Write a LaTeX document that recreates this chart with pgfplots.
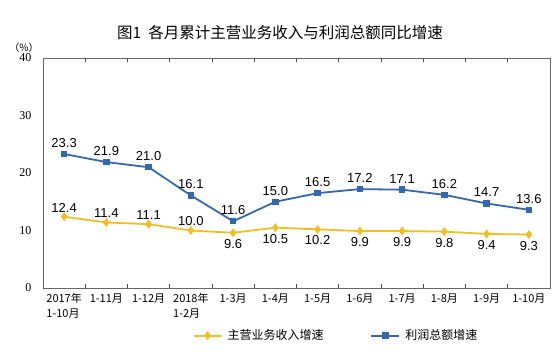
\documentclass[border=0pt]{standalone}
\usepackage{pgfplots}
\usepackage{pgfplotstable}
\pgfplotsset{compat=1.18}
\usepackage{fontspec}
\setmainfont{Liberation Sans}
\newfontfamily\cjk{Noto Sans CJK SC}
\newfontfamily\serifnum{Liberation Serif}
\definecolor{cy}{RGB}{242,190,32}
\definecolor{cb}{RGB}{52,104,172}
\pgfplotstableread{
x rev prof
0 12.4 23.3
1 11.4 21.9
2 11.1 21.0
3 10.0 16.1
4 9.6 11.6
5 10.5 15.0
6 10.2 16.5
7 9.9 17.2
8 9.9 17.1
9 9.8 16.2
10 9.4 14.7
11 9.3 13.6
}\data
\begin{document}
\begin{tikzpicture}[x=1pt,y=1pt]
\useasboundingbox (0,0) rectangle (560,353);
\begin{axis}[
  at={(43pt,65pt)}, anchor=south west,
  scale only axis, width=507pt, height=230pt,
  xmin=0, xmax=12, ymin=0, ymax=40,
  ytick={0,10,20,30,40},
  yticklabel style={font=\serifnum\fontsize{12}{12}\selectfont, xshift=-8pt},
  /pgf/number format/assume math mode=true,
  xtick={0.5,1.5,...,11.5},
  xticklabels={{2017年\\1-10月},1-11月,1-12月,{2018年\\1-2月},1-3月,1-4月,1-5月,1-6月,1-7月,1-8月,1-9月,1-10月},
  xticklabel style={font=\cjk\fontsize{11}{15}\selectfont, align=left, anchor=north, yshift=-2pt},
  major tick length=0pt,
  extra x ticks={1,2,...,11},
  extra x tick labels={},
  extra x tick style={major tick length=4pt, tick style={black!70, line width=0.6pt}, tick align=inside},
  axis line style={black!60, line width=0.6pt},
  clip=false,
  legend columns=2,
  legend style={at={(0.578,-0.207)}, anchor=center, draw=none, font=\cjk\fontsize{12}{12}\selectfont,
    /tikz/every even column/.append style={column sep=45pt},
    /tikz/every odd column/.append style={column sep=3pt}},
  legend image code/.code={\draw[#1, mark repeat=2, mark phase=2] plot coordinates {(0pt,0pt) (14pt,0pt) (28pt,0pt)};},
]
\addplot[color=cy, line width=1.8pt, mark=diamond*, mark size=3pt] table[x expr=\thisrow{x}+0.5, y=rev] {\data};
\addlegendentry{主营业务收入增速}
\addplot[color=cb, line width=1.8pt, mark=square*, mark size=2.3pt] table[x expr=\thisrow{x}+0.5, y=prof] {\data};
\addlegendentry{利润总额增速}
% yellow labels: above for first four, below for rest
\addplot[draw=none, mark=none, nodes near coords, point meta=explicit, forget plot,
  nodes near coords style={font=\fontsize{13}{13}\selectfont, anchor=south, yshift=1pt, /pgf/number format/fixed, /pgf/number format/fixed zerofill, /pgf/number format/precision=1},
  restrict x to domain=0:4]
  table[x expr=\thisrow{x}+0.5, y=rev, meta=rev] {\data};
\addplot[draw=none, mark=none, nodes near coords, point meta=explicit, forget plot,
  nodes near coords style={font=\fontsize{13}{13}\selectfont, anchor=north, yshift=-3pt, /pgf/number format/fixed, /pgf/number format/fixed zerofill, /pgf/number format/precision=1},
  restrict x to domain=4:12]
  table[x expr=\thisrow{x}+0.5, y=rev, meta=rev] {\data};
\addplot[draw=none, mark=none, nodes near coords, point meta=explicit, forget plot,
  nodes near coords style={font=\fontsize{13}{13}\selectfont, anchor=south, yshift=3pt, /pgf/number format/fixed, /pgf/number format/fixed zerofill, /pgf/number format/precision=1}]
  table[x expr=\thisrow{x}+0.5, y=prof, meta=prof] {\data};
\end{axis}
\node[font=\cjk\fontsize{15.5}{16}\selectfont] at (280,320) {图1\ \ 各月累计主营业务收入与利润总额同比增速};
\node[font=\cjk\fontsize{10}{10}\selectfont] at (24,305) {（\%）};
\end{tikzpicture}
\end{document}
